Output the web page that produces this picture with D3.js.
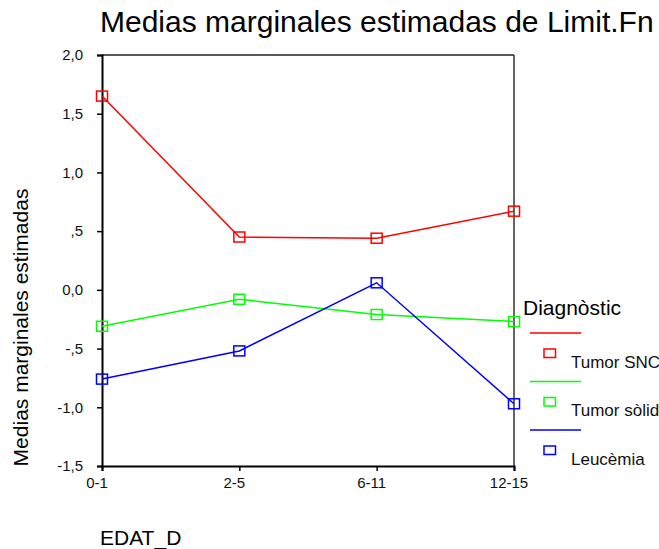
<!DOCTYPE html>
<html>
<head>
<meta charset="utf-8">
<script src="https://cdn.jsdelivr.net/npm/d3@7"></script>
<style>
  html, body { margin: 0; padding: 0; background: #fff; }
  svg { display: block; font-family: "Liberation Sans", Arial, sans-serif; }
</style>
</head>
<body>
<svg id="chart" width="659" height="549"></svg>
<script>
// Age groups on the x axis
const categories = ["0-1", "2-5", "6-11", "12-15"];
// Estimated marginal means per diagnosis group
const seriesNames = ["Tumor SNC", "Tumor sòlid", "Leucèmia"];
const tumorSNC = [1.65, 0.45, 0.44, 0.67];
const tumorSolid = [-0.31, -0.08, -0.21, -0.27];
const leucemia = [-0.76, -0.52, 0.06, -0.97];
const seriesColors = ["#ff0000", "#00ff00", "#0000ff"];
const yTicks = [2.0, 1.5, 1.0, 0.5, 0.0, -0.5, -1.0, -1.5];
const yTickLabels = ["2,0", "1,5", "1,0", ",5", "0,0", "-,5", "-1,0", "-1,5"];

const seriesValues = [tumorSNC, tumorSolid, leucemia];

const svg = d3.select("#chart");
const plotL = 102, plotR = 514, plotT = 55, plotB = 466;

const x = d3.scalePoint().domain(categories).range([plotL, plotR]);
const y = d3.scaleLinear().domain([-1.5, 2.0]).range([plotB, plotT]);

// Title
svg.append("text")
  .attr("x", 100).attr("y", 32)
  .attr("font-size", 30)
  .attr("fill", "#000")
  .text("Medias marginales estimadas de Limit.Fn");

// Frame: top and right edges
svg.append("line").attr("x1", plotL).attr("x2", plotR).attr("y1", plotT).attr("y2", plotT)
  .attr("stroke", "#222").attr("stroke-width", 1.5);
svg.append("line").attr("x1", plotR).attr("x2", plotR).attr("y1", plotT).attr("y2", plotB)
  .attr("stroke", "#333").attr("stroke-width", 1.5);

// Y axis
const yAxis = d3.axisLeft(y)
  .tickValues(yTicks)
  .tickFormat((d, i) => yTickLabels[i])
  .tickSize(5).tickPadding(14);
const gy = svg.append("g").attr("transform", `translate(${plotL},0)`).call(yAxis);
gy.select(".domain").attr("stroke", "#000").attr("stroke-width", 2);
gy.selectAll(".tick line").attr("stroke", "#000").attr("stroke-width", 1.5);
gy.selectAll(".tick text").attr("font-size", 15).attr("fill", "#111")
  .attr("font-family", "Liberation Sans, Arial, sans-serif");

// X axis (labels sit slightly left of their ticks)
const xAxis = d3.axisBottom(x).tickSize(5).tickPadding(6);
const gx = svg.append("g").attr("transform", `translate(0,${plotB})`).call(xAxis);
gx.select(".domain").attr("stroke", "#000").attr("stroke-width", 2);
gx.selectAll(".tick line").attr("stroke", "#000").attr("stroke-width", 1.5);
gx.selectAll(".tick text").attr("font-size", 15).attr("fill", "#111")
  .attr("dx", -5.5)
  .attr("font-family", "Liberation Sans, Arial, sans-serif");

// Axis titles
svg.append("text")
  .attr("transform", "translate(28,327.5) rotate(-90)")
  .attr("text-anchor", "middle")
  .attr("font-size", 21)
  .text("Medias marginales estimadas");
svg.append("text")
  .attr("x", 100).attr("y", 545)
  .attr("font-size", 21)
  .text("EDAT_D");

// Lines and square markers
const line = d3.line().x((d, i) => x(categories[i])).y(d => y(d));
const mw = 11, mh = 10;
seriesValues.forEach((vals, s) => {
  svg.append("path").datum(vals)
    .attr("d", line)
    .attr("fill", "none")
    .attr("stroke", seriesColors[s])
    .attr("stroke-width", 1.5);
  svg.append("g").selectAll("rect").data(vals).join("rect")
    .attr("x", (d, i) => x(categories[i]) - mw / 2)
    .attr("y", d => y(d) - mh / 2)
    .attr("width", mw).attr("height", mh)
    .attr("fill", "none")
    .attr("stroke", seriesColors[s])
    .attr("stroke-width", 1.5);
});

// Legend
const lg = svg.append("g");
lg.append("text").attr("x", 523).attr("y", 315).attr("font-size", 21).text("Diagnòstic");
seriesNames.forEach((name, s) => {
  const base = 333 + s * 48.5;
  lg.append("line").attr("x1", 530).attr("x2", 581).attr("y1", base).attr("y2", base)
    .attr("stroke", seriesColors[s]).attr("stroke-width", 1.5);
  lg.append("rect").attr("x", 544).attr("y", base + 16).attr("width", 11.5).attr("height", 8.5)
    .attr("fill", "none").attr("stroke", seriesColors[s]).attr("stroke-width", 1.5);
  lg.append("text").attr("x", 571).attr("y", base + 34.5).attr("font-size", 17).attr("fill", "#111").text(name);
});
</script>
</body>
</html>
